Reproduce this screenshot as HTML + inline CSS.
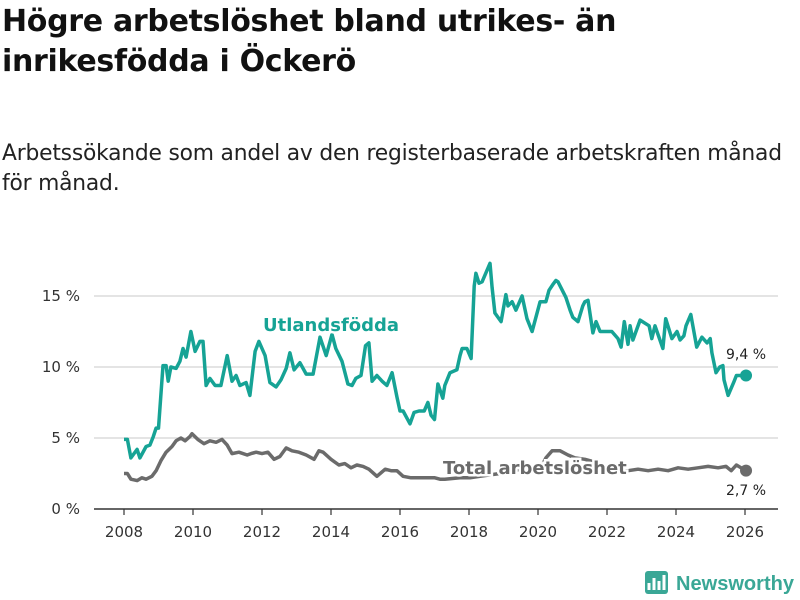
<!DOCTYPE html>
<html><head><meta charset="utf-8"><style>
body{margin:0;background:#fff;font-family:"Liberation Sans","DejaVu Sans",sans-serif;}
#wrap{position:relative;width:800px;height:600px;overflow:hidden;}
h1{position:absolute;left:2px;top:2px;margin:0;font-size:30px;line-height:40px;font-weight:bold;color:#111;font-family:"DejaVu Sans","Liberation Sans",sans-serif;letter-spacing:-0.3px}
.sub{position:absolute;left:2px;top:139px;margin:0;font-size:21.8px;line-height:30px;color:#222;font-family:"DejaVu Sans","Liberation Sans",sans-serif;letter-spacing:-0.2px}
</style></head><body><div id="wrap">
<h1>Högre arbetslöshet bland utrikes- än<br>inrikesfödda i Öckerö</h1>
<p class="sub">Arbetssökande som andel av den registerbaserade arbetskraften månad<br>för månad.</p>
<svg id="chart" width="800" height="600" style="position:absolute;left:0;top:0"></svg>
</div>
<script>
const yTicks=[0,5,10,15];
const xTicks=[2008,2010,2012,2014,2016,2018,2020,2022,2024,2026];
const foreignX=[2008.0,2008.1,2008.2,2008.38,2008.46,2008.64,2008.75,2008.85,2008.93,2009.0,2009.13,2009.22,2009.28,2009.36,2009.51,2009.62,2009.71,2009.8,2009.94,2010.06,2010.2,2010.29,2010.38,2010.49,2010.64,2010.81,2010.99,2011.13,2011.25,2011.36,2011.54,2011.65,2011.8,2011.91,2012.09,2012.23,2012.41,2012.55,2012.7,2012.81,2012.93,2013.1,2013.28,2013.48,2013.68,2013.86,2014.03,2014.14,2014.32,2014.49,2014.61,2014.72,2014.87,2015.0,2015.1,2015.19,2015.33,2015.48,2015.62,2015.77,2015.91,2016.0,2016.09,2016.29,2016.41,2016.55,2016.7,2016.81,2016.9,2017.0,2017.1,2017.24,2017.3,2017.45,2017.65,2017.74,2017.8,2017.94,2018.06,2018.15,2018.2,2018.29,2018.38,2018.61,2018.67,2018.75,2018.93,2019.07,2019.13,2019.25,2019.36,2019.54,2019.68,2019.83,2020.06,2020.23,2020.32,2020.43,2020.52,2020.58,2020.81,2020.93,2021.01,2021.16,2021.3,2021.36,2021.45,2021.59,2021.68,2021.8,2021.97,2022.14,2022.32,2022.41,2022.5,2022.61,2022.67,2022.75,2022.96,2023.22,2023.3,2023.39,2023.62,2023.7,2023.88,2024.03,2024.12,2024.23,2024.29,2024.43,2024.6,2024.75,2024.9,2024.99,2025.04,2025.16,2025.27,2025.36,2025.39,2025.51,2025.67,2025.75,2025.87,2026.03];
const foreignV=[4.9,4.9,3.6,4.2,3.6,4.4,4.5,5.1,5.7,5.7,10.1,10.1,9.0,10.0,9.9,10.4,11.3,10.7,12.5,11.1,11.8,11.8,8.7,9.2,8.7,8.7,10.8,9.0,9.4,8.7,8.9,8.0,11.1,11.8,10.8,8.9,8.6,9.1,9.9,11.0,9.8,10.3,9.5,9.5,12.1,10.8,12.3,11.3,10.4,8.8,8.7,9.2,9.4,11.5,11.7,9.0,9.4,9.0,8.7,9.6,7.9,6.9,6.9,6.0,6.8,6.9,6.9,7.5,6.6,6.3,8.8,7.8,8.7,9.6,9.8,10.8,11.3,11.3,10.6,15.7,16.6,15.9,16.0,17.3,15.6,13.8,13.2,15.1,14.3,14.6,14.0,15.0,13.4,12.5,14.6,14.6,15.4,15.8,16.1,16.0,14.9,14.0,13.5,13.2,14.3,14.6,14.7,12.4,13.2,12.5,12.5,12.5,12.0,11.4,13.2,11.6,12.9,11.9,13.3,12.9,12.0,12.9,11.3,13.4,12.0,12.5,11.9,12.2,12.9,13.7,11.4,12.1,11.7,12.0,11.0,9.6,10.0,10.1,9.1,8.0,8.9,9.4,9.4];
const totalX=[2008.0,2008.1,2008.2,2008.38,2008.52,2008.64,2008.81,2008.93,2009.07,2009.22,2009.39,2009.51,2009.65,2009.77,2009.91,2009.97,2010.14,2010.32,2010.49,2010.67,2010.84,2010.99,2011.13,2011.33,2011.57,2011.68,2011.83,2012.0,2012.17,2012.35,2012.52,2012.7,2012.87,2013.07,2013.28,2013.51,2013.65,2013.77,2014.0,2014.23,2014.4,2014.58,2014.75,2014.93,2015.1,2015.33,2015.57,2015.74,2015.91,2016.09,2016.32,2016.55,2016.78,2017.01,2017.16,2017.3,2017.74,2018.03,2018.32,2018.61,2018.9,2019.19,2019.48,2019.77,2020.06,2020.23,2020.41,2020.64,2020.87,2021.07,2021.36,2021.65,2021.94,2022.32,2022.61,2022.9,2023.19,2023.48,2023.77,2024.06,2024.35,2024.64,2024.93,2025.22,2025.45,2025.6,2025.75,2026.03];
const totalV=[2.5,2.5,2.1,2.0,2.2,2.1,2.3,2.7,3.4,4.0,4.4,4.8,5.0,4.8,5.1,5.3,4.9,4.6,4.8,4.7,4.9,4.5,3.9,4.0,3.8,3.9,4.0,3.9,4.0,3.5,3.7,4.3,4.1,4.0,3.8,3.5,4.1,4.0,3.5,3.1,3.2,2.9,3.1,3.0,2.8,2.3,2.8,2.7,2.7,2.3,2.2,2.2,2.2,2.2,2.1,2.1,2.2,2.2,2.3,2.4,2.5,2.6,2.8,3.0,2.8,3.6,4.1,4.1,3.8,3.6,3.5,3.3,2.9,2.7,2.7,2.8,2.7,2.8,2.7,2.9,2.8,2.9,3.0,2.9,3.0,2.7,3.1,2.7];
const NS="http://www.w3.org/2000/svg";
const svg=document.getElementById('chart');
const X=v=>124+(v-2008)*(745-124)/18;
const Y=v=>509-v*14.2;
function mk(t,a,p){const e=document.createElementNS(NS,t);for(const k in a)e.setAttribute(k,a[k]);(p||svg).appendChild(e);return e;}
yTicks.forEach(t=>{
  if(t>0){const g=mk('line',{x1:94,x2:778,y1:Y(t),y2:Y(t),stroke:'#dcdcdc','stroke-width':1.5});
  
  }
  const l=mk('text',{x:80,y:Y(t)+5,'text-anchor':'end','font-size':15,fill:'#333','font-family':'DejaVu Sans, Liberation Sans, sans-serif'});
  l.textContent=t+' %';
  
  
});
const ax=mk('line',{x1:94,x2:778,y1:509,y2:509,stroke:'#333','stroke-width':1.5});


xTicks.forEach(t=>{
  const tk=mk('line',{x1:X(t),x2:X(t),y1:509,y2:515,stroke:'#333','stroke-width':1.2});
  
  
  const l=mk('text',{x:X(t),y:537,'text-anchor':'middle','font-size':15,fill:'#333','font-family':'DejaVu Sans, Liberation Sans, sans-serif'});
  l.textContent=t;
  
  
});
function line(xs,vs,col,name){
  const d=xs.map((x,i)=>(i?'L':'M')+X(x).toFixed(1)+','+Y(vs[i]).toFixed(1)).join('');
  const p=mk('path',{d:d,fill:'none',stroke:col,'stroke-width':3.5,'stroke-linejoin':'round'});
  
  
  const c=mk('circle',{cx:X(xs[xs.length-1]),cy:Y(vs[vs.length-1]),r:6,fill:col});
  
  
}
line(totalX,totalV,'#6b6b6b','total-series-line');
line(foreignX,foreignV,'#16a395','foreign-born-series-line');
function lab(x,y,txt,col,sz,bold,name,anchor){
  const t=mk('text',{x:x,y:y,'font-size':sz,fill:col,'font-weight':bold?'bold':'normal',stroke:'#fff','stroke-width':bold?5:4,'paint-order':'stroke','text-anchor':anchor||'start','font-family':'DejaVu Sans, Liberation Sans, sans-serif'});
  t.textContent=txt;
  
  
}
lab(263,331,'Utlandsfödda','#16a395',18,true,'foreign-born-label');
lab(443,474,'Total arbetslöshet','#6b6b6b',18,true,'total-label');
lab(746,359,'9,4 %','#222',14,false,'foreign-end-value','middle');
lab(746,495,'2,7 %','#222',14,false,'total-end-value','middle');
const g=mk('g',{});


mk('rect',{x:645,y:571,width:23,height:23,rx:3,fill:'#3aa796'},g);
mk('path',{d:'M649,590 L649,583 M654,590 L654,578 M659,590 L659,581 M664,590 L664,575',stroke:'#fff','stroke-width':3},g);
const lt=mk('text',{x:676,y:590,'font-size':20,'font-weight':'bold',fill:'#3aa796','font-family':'Liberation Sans, sans-serif',textLength:118,lengthAdjust:'spacingAndGlyphs'},g);
lt.textContent='Newsworthy';
</script></body></html>
